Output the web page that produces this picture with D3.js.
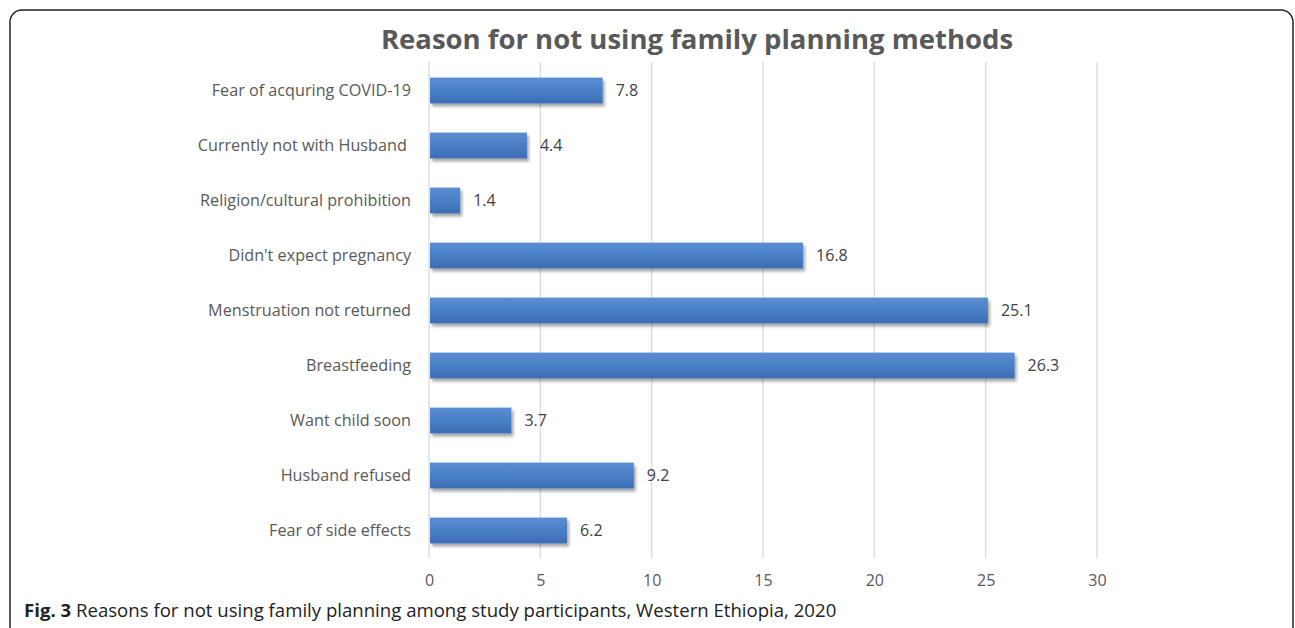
<!DOCTYPE html>
<html>
<head>
<meta charset="utf-8">
<script src="https://cdn.jsdelivr.net/npm/d3@7"></script>
<style>
  body { margin: 0; background: #fff; }
  svg text { font-family: "Open Sans", "Noto Sans", sans-serif; white-space: pre; }
</style>
</head>
<body>
<div class="chart"></div>
<script>
// categories top to bottom
var categories = [
  "Fear of acquring COVID-19",
  "Currently not with Husband ",
  "Religion/cultural prohibition",
  "Didn't expect pregnancy",
  "Menstruation not returned",
  "Breastfeeding",
  "Want child soon",
  "Husband refused",
  "Fear of side effects"
];
var values = [7.8, 4.4, 1.4, 16.8, 25.1, 26.3, 3.7, 9.2, 6.2];
var xTicks = [0, 5, 10, 15, 20, 25, 30];

var W = 1295, H = 628;
var plotLeft = 429, plotRight = 1097, plotTop = 63, plotBottom = 558;

var svg = d3.select('.chart').append('svg')
  .attr('width', W)
  .attr('height', H);

var defs = svg.append('defs');
var grad = defs.append('linearGradient')
  .attr('id', 'barGrad')
  .attr('x1', 0).attr('y1', 0).attr('x2', 0).attr('y2', 1);
grad.append('stop').attr('offset', '0%').attr('stop-color', '#5b8ed3');
grad.append('stop').attr('offset', '50%').attr('stop-color', '#4a7fc6');
grad.append('stop').attr('offset', '100%').attr('stop-color', '#3b6db4');

var filt = defs.append('filter').attr('id', 'shadow')
  .attr('x', '-5%').attr('y', '-20%').attr('width', '115%').attr('height', '160%');
filt.append('feDropShadow')
  .attr('dx', 2).attr('dy', 3).attr('stdDeviation', 1.6)
  .attr('flood-color', '#000').attr('flood-opacity', 0.35);

// frame
svg.append('rect')
  .attr('x', 10).attr('y', 10)
  .attr('width', 1283).attr('height', 640)
  .attr('rx', 12)
  .attr('fill', 'none')
  .attr('stroke', '#222')
  .attr('stroke-width', 1.5);

var x = d3.scaleLinear().domain([0, 30]).range([plotLeft, plotRight]);
var y = d3.scaleBand().domain(categories).range([plotTop, plotBottom]).paddingInner(0.53).paddingOuter(0.265);

// gridlines
svg.append('g').selectAll('line')
  .data(xTicks)
  .enter().append('line')
  .attr('x1', function(d) { return x(d); })
  .attr('x2', function(d) { return x(d); })
  .attr('y1', plotTop - 1)
  .attr('y2', plotBottom)
  .attr('stroke', '#d9d9d9')
  .attr('stroke-width', 1.3);

// x axis labels
var xAxis = svg.append('g')
  .attr('transform', 'translate(0,' + (plotBottom + 17) + ')')
  .call(d3.axisBottom(x).tickValues(xTicks).tickSize(0).tickPadding(0));
xAxis.select('.domain').remove();
xAxis.selectAll('text')
  .attr('font-size', 16)
  .attr('fill', '#595959')
  .style('font-family', '"Open Sans", sans-serif');

// y axis labels
var yAxis = svg.append('g')
  .attr('transform', 'translate(' + (plotLeft - 18) + ',0)')
  .call(d3.axisLeft(y).tickSize(0).tickPadding(0));
yAxis.select('.domain').remove();
yAxis.selectAll('text')
  .attr('font-size', 16.2)
  .attr('fill', '#595959')
  .style('font-family', '"Open Sans", sans-serif');

// bars
svg.append('g').selectAll('rect')
  .data(values)
  .enter().append('rect')
  .attr('x', x(0) + 1)
  .attr('y', function(d, i) { return y(categories[i]); })
  .attr('width', function(d) { return x(d) - x(0) - 1; })
  .attr('height', y.bandwidth())
  .attr('fill', 'url(#barGrad)')
  .attr('filter', 'url(#shadow)');

// value labels
svg.append('g').selectAll('text')
  .data(values)
  .enter().append('text')
  .attr('x', function(d) { return x(d) + 13; })
  .attr('y', function(d, i) { return y(categories[i]) + y.bandwidth() / 2; })
  .attr('dy', '0.35em')
  .attr('font-size', 16)
  .attr('fill', '#404040')
  .text(function(d) { return d.toFixed(1); });

// title
svg.append('text')
  .attr('x', 697)
  .attr('y', 49)
  .attr('text-anchor', 'middle')
  .attr('font-size', 27.5)
  .attr('font-weight', 'bold')
  .attr('fill', '#595959')
  .text('Reason for not using family planning methods');

// caption
var cap = svg.append('text')
  .attr('x', 24)
  .attr('y', 617)
  .attr('font-size', 18.6)
  .attr('fill', '#222');
cap.append('tspan').attr('font-weight', 'bold').text('Fig. 3');
cap.append('tspan').text(' Reasons for not using family planning among study participants, Western Ethiopia, 2020');
</script>
</body>
</html>
